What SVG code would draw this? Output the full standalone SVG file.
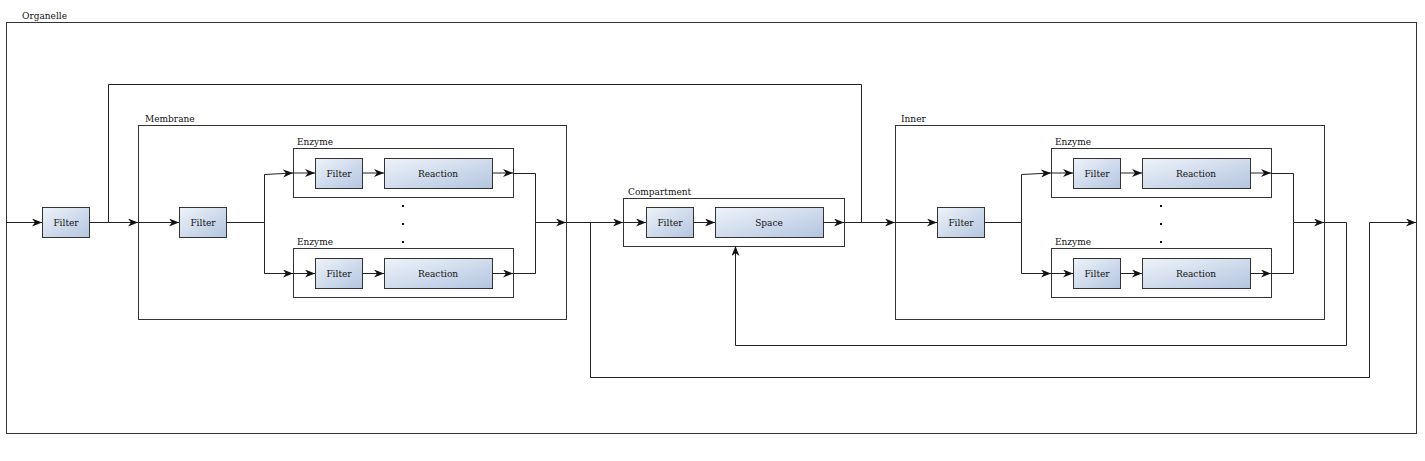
<svg xmlns="http://www.w3.org/2000/svg" width="1425" height="461" viewBox="0 0 1425 461">
<defs>
<linearGradient id="g" x1="0" y1="0" x2="1" y2="1">
<stop offset="0" stop-color="#eef3fa"/>
<stop offset="1" stop-color="#b3c5df"/>
</linearGradient>
<marker id="a" viewBox="0 0 10 8" refX="10" refY="4" markerWidth="10" markerHeight="8" markerUnits="userSpaceOnUse" orient="auto">
<path d="M0,0 L10,4 L0,8 L3,4 z" fill="#111"/>
</marker>
</defs>
<style>
.c{fill:none;stroke:#333;stroke-width:1}
.b{fill:url(#g);stroke:#333;stroke-width:1}
.l{fill:none;stroke:#222;stroke-width:1}
.l.ar{marker-end:url(#a)}
text{font-family:"DejaVu Serif",serif;font-size:9px;fill:#111}
.m{text-anchor:middle}
</style>
<rect width="1425" height="461" fill="#fff"/>
<g id="organelle"><rect class="c" x="6.5" y="22.5" width="1410" height="411"/><text x="22" y="19">Organelle</text></g>
<g id="filter0"><rect class="b" x="42.5" y="207.5" width="47" height="30"/><text class="m" x="66" y="226">Filter</text></g>
<g id="membrane"><rect class="c" x="138.5" y="125.5" width="428" height="194"/><text x="145" y="122">Membrane</text></g>
<g id="mfilter"><rect class="b" x="179.5" y="207.5" width="47" height="30"/><text class="m" x="203" y="226">Filter</text></g>
<g id="menzyme1"><rect class="c" x="293.5" y="148.5" width="220" height="49"/><text x="297" y="145">Enzyme</text></g>
<g id="mfilter1"><rect class="b" x="315.5" y="158.5" width="47" height="30"/><text class="m" x="339" y="177">Filter</text></g>
<g id="mreaction1"><rect class="b" x="384.5" y="158.5" width="108" height="30"/><text class="m" x="438" y="177">Reaction</text></g>
<g id="menzyme2"><rect class="c" x="293.5" y="248.5" width="220" height="49"/><text x="297" y="245">Enzyme</text></g>
<g id="mfilter2"><rect class="b" x="315.5" y="258.5" width="47" height="30"/><text class="m" x="339" y="277">Filter</text></g>
<g id="mreaction2"><rect class="b" x="384.5" y="258.5" width="108" height="30"/><text class="m" x="438" y="277">Reaction</text></g>
<g id="mdots" fill="#111"><rect x="402" y="205" width="2" height="2"/><rect x="402" y="223" width="2" height="2"/><rect x="402" y="241" width="2" height="2"/></g>
<g id="compartment"><rect class="c" x="623.5" y="198.5" width="221" height="48"/><text x="628" y="195">Compartment</text></g>
<g id="cfilter"><rect class="b" x="646.5" y="207.5" width="47" height="30"/><text class="m" x="670" y="226">Filter</text></g>
<g id="space"><rect class="b" x="715.5" y="207.5" width="108" height="30"/><text class="m" x="769" y="226">Space</text></g>
<g id="inner"><rect class="c" x="895.5" y="125.5" width="429" height="194"/><text x="901" y="122">Inner</text></g>
<g id="ifilter"><rect class="b" x="937.5" y="207.5" width="47" height="30"/><text class="m" x="961" y="226">Filter</text></g>
<g id="ienzyme1"><rect class="c" x="1051.5" y="148.5" width="220" height="49"/><text x="1055" y="145">Enzyme</text></g>
<g id="ifilter1"><rect class="b" x="1073.5" y="158.5" width="47" height="30"/><text class="m" x="1097" y="177">Filter</text></g>
<g id="ireaction1"><rect class="b" x="1142.5" y="158.5" width="108" height="30"/><text class="m" x="1196" y="177">Reaction</text></g>
<g id="ienzyme2"><rect class="c" x="1051.5" y="248.5" width="220" height="49"/><text x="1055" y="245">Enzyme</text></g>
<g id="ifilter2"><rect class="b" x="1073.5" y="258.5" width="47" height="30"/><text class="m" x="1097" y="277">Filter</text></g>
<g id="ireaction2"><rect class="b" x="1142.5" y="258.5" width="108" height="30"/><text class="m" x="1196" y="277">Reaction</text></g>
<g id="idots" fill="#111"><rect x="1160" y="205" width="2" height="2"/><rect x="1160" y="223" width="2" height="2"/><rect x="1160" y="241" width="2" height="2"/></g>
<g id="connectors">
<path class="l ar" d="M6,222.5 H42"/>
<path class="l ar" d="M89,222.5 H138"/>
<path class="l" d="M108.5,222.5 V84.5 H861.5 V222.5"/>
<path class="l ar" d="M138,222.5 H179"/>
<path class="l ar" d="M226,222.5 H264.5 V174.5 L293,173"/>
<path class="l ar" d="M264.5,222.5 V273.5 H293"/>
<path class="l ar" d="M293,173 H315"/>
<path class="l ar" d="M362,173 H384"/>
<path class="l ar" d="M492,173 H513"/>
<path class="l ar" d="M293,273.5 H315"/>
<path class="l ar" d="M362,273.5 H384"/>
<path class="l ar" d="M492,273.5 H513"/>
<path class="l ar" d="M513,173.5 H535.5 V222.5 H566"/>
<path class="l" d="M513,273.5 H535.5 V222.5"/>
<path class="l ar" d="M566,222.5 H623"/>
<path class="l ar" d="M590.5,222.5 V377.5 H1369.5 V222.5 H1416"/>
<path class="l ar" d="M623,222.5 H646"/>
<path class="l ar" d="M693,222.5 H715"/>
<path class="l ar" d="M823,222.5 H844"/>
<path class="l ar" d="M844,222.5 H895"/>
<path class="l ar" d="M895,222.5 H937"/>
<path class="l ar" d="M984,222.5 H1021.5 V174.5 L1051,173"/>
<path class="l ar" d="M1021.5,222.5 V273.5 H1051"/>
<path class="l ar" d="M1051,173 H1073"/>
<path class="l ar" d="M1120,173 H1142"/>
<path class="l ar" d="M1250,173 H1271"/>
<path class="l ar" d="M1051,273.5 H1073"/>
<path class="l ar" d="M1120,273.5 H1142"/>
<path class="l ar" d="M1250,273.5 H1271"/>
<path class="l ar" d="M1271,173.5 H1293.5 V222.5 H1324"/>
<path class="l" d="M1271,273.5 H1293.5 V222.5"/>
<path class="l ar" d="M1324,222.5 H1346.5 V345.5 H735.5 V246"/>
</g>
</svg>
